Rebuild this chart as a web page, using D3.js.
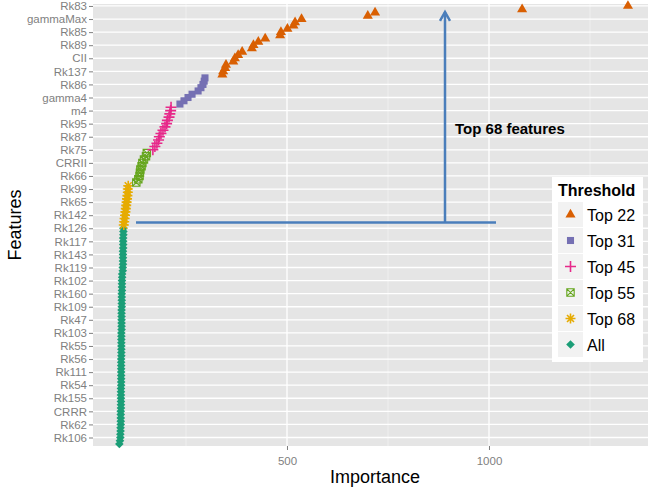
<!DOCTYPE html>
<meta charset="utf-8">

<head>
    <title>Feature importance</title>
</head>

<style>
    body {
        margin: 0;
        background-color: #ffffff;
        font-family: "Liberation Sans", Arial, sans-serif;
    }

    .axis path {
        display: none;
    }

    .axis line {
        stroke: #7f7f7f;
        stroke-width: 1px;
    }

    .axis text {
        fill: #7f7f7f;
        font-size: 11.5px;
        font-family: "Liberation Sans", Arial, sans-serif;
    }
</style>

<body>
    <svg width="649" height="491"></svg>
</body>

<script src="https://d3js.org/d3.v7.min.js"></script>

<script>
    // features ordered from the most important (top) to the least important (bottom)
    // only every 4th feature carries a label on the axis
    var tickLabels = ["Rk83", "gammaMax", "Rk85", "Rk89", "CII", "Rk137", "Rk86", "gamma4", "m4",
        "Rk95", "Rk87", "Rk75", "CRRII", "Rk66", "Rk99", "Rk65", "Rk142", "Rk126", "Rk117",
        "Rk143", "Rk119", "Rk102", "Rk160", "Rk109", "Rk47", "Rk103", "Rk55", "Rk56", "Rk111",
        "Rk54", "Rk155", "CRRR", "Rk62", "Rk106"];
    var labelEvery = 4;

    var importance = [
        // top 22
        1344, 1082, 718, 700, 536, 520, 516, 501, 485, 483, 446, 429, 417, 413, 389, 379, 371, 367,
        349, 347, 342, 340,
        // top 31
        297, 295, 292, 287, 280, 265, 255, 245, 235,
        // top 45
        213, 212, 210, 208, 204, 202, 198, 193, 188, 184, 182, 178, 173, 168,
        // top 55
        153, 151, 146, 142, 140, 137, 136, 135, 132, 127,
        // top 68
        107, 106, 106, 105, 104, 103, 102, 101, 100, 99, 98, 97, 96,
        // all the rest
        95, 95, 95, 94.5, 94.5, 94.5, 94.5, 94, 94, 94, 94, 94, 93.5, 93.5,
        92, 92, 91.5, 91.5, 91.5, 91.5, 91, 91, 91, 91, 91,
        90.5, 90.5, 90.5, 90.5, 90.5, 90.5, 90.5,
        90, 90, 90, 90, 90, 90, 90, 90,
        89.5, 89.5, 89.5, 89.5, 89.5, 89.5, 89.5, 89.5, 89.5,
        89, 89, 89, 89, 89, 89, 89,
        88.5, 88.5, 88.5, 88.5, 88.5, 88, 88, 87.5, 87.5, 86.5, 85
    ];

    var groups = ["Top 22", "Top 31", "Top 45", "Top 55", "Top 68", "All"];
    var groupEnds = [22, 31, 45, 55, 68, 135];
    var groupColors = ["#D95F02", "#7570B3", "#E7298A", "#66A61E", "#E6AB02", "#1B9E77"];
    var groupShapes = ["triangle", "square", "plus", "squareX", "star", "diamond"];

    var xTicks = [500, 1000];
    var xMinorTicks = [250, 750, 1250];
    var cutoff = 68;

    var svg = d3.select("svg"),
        panel = { left: 93, right: 648, top: 4, bottom: 446 };

    var data = importance.map(function (v, i) {
        var gi = groupEnds.findIndex(e => i < e);
        return { index: i, value: v, group: groups[gi] };
    });

    var x = d3.scaleLinear()
        .domain([19.8, 1393.6])
        .range([panel.left, panel.right]);

    var y = d3.scalePoint()
        .domain(d3.range(importance.length))
        .range([panel.top, panel.bottom])
        .padding(0.6);

    var colour = d3.scaleOrdinal().domain(groups).range(groupColors);
    var shape = d3.scaleOrdinal().domain(groups).range(groupShapes);

    function shapePath(s) {
        if (s == "triangle") return d3.symbol(d3.symbolTriangle, 44)();
        if (s == "square") return d3.symbol(d3.symbolSquare, 50)();
        if (s == "plus") return "M-5.5,0H5.5M0,-5.5V5.5";
        if (s == "squareX") return "M-3.7,-3.7H3.7V3.7H-3.7ZM-3.7,-3.7L3.7,3.7M3.7,-3.7L-3.7,3.7";
        if (s == "star") return "M-5,0H5M0,-5V5M-3.5,-3.5L3.5,3.5M3.5,-3.5L-3.5,3.5";
        return "M0,-4.3L4.3,0L0,4.3L-4.3,0Z";
    }

    function styleShape(sel, g) {
        var s = shape(g), c = colour(g);
        var filled = (s == "triangle" || s == "square" || s == "diamond");
        sel.attr("d", shapePath(s))
            .attr("fill", filled ? c : "none")
            .attr("stroke", filled ? "none" : c)
            .attr("stroke-width", s == "squareX" ? 1.1 : 1.6);
    }

    // panel background
    svg.append("rect")
        .attr("x", panel.left)
        .attr("y", panel.top)
        .attr("width", panel.right - panel.left)
        .attr("height", panel.bottom - panel.top)
        .attr("fill", "#E5E5E5");

    var labelIdx = tickLabels.map((d, i) => i * labelEvery);

    // grid
    svg.append("g").selectAll("line")
        .data(xMinorTicks)
        .enter().append("line")
        .attr("x1", d => x(d)).attr("x2", d => x(d))
        .attr("y1", panel.top).attr("y2", panel.bottom)
        .attr("stroke", "#F2F2F2").attr("stroke-width", 0.8);

    svg.append("g").selectAll("line")
        .data(xTicks)
        .enter().append("line")
        .attr("x1", d => x(d)).attr("x2", d => x(d))
        .attr("y1", panel.top).attr("y2", panel.bottom)
        .attr("stroke", "#ffffff").attr("stroke-width", 1.3);

    svg.append("g").selectAll("line")
        .data(labelIdx)
        .enter().append("line")
        .attr("x1", panel.left).attr("x2", panel.right)
        .attr("y1", d => y(d)).attr("y2", d => y(d))
        .attr("stroke", "#ffffff").attr("stroke-width", 1.3);

    // axes
    svg.append("g")
        .attr("class", "axis")
        .attr("transform", "translate(" + panel.left + ",0)")
        .call(d3.axisLeft(y)
            .tickValues(labelIdx)
            .tickSize(4)
            .tickPadding(2)
            .tickFormat((d, i) => tickLabels[i]));

    svg.append("g")
        .attr("class", "axis")
        .attr("transform", "translate(0," + panel.bottom + ")")
        .call(d3.axisBottom(x)
            .tickValues(xTicks)
            .tickSize(4)
            .tickPadding(7)
            .tickFormat(d3.format("d")));

    svg.append("text")
        .attr("x", 375)
        .attr("y", 483)
        .attr("text-anchor", "middle")
        .attr("font-size", "18px")
        .text("Importance");

    svg.append("text")
        .attr("transform", "translate(21," + (panel.top + panel.bottom) / 2 + ") rotate(-90)")
        .attr("text-anchor", "middle")
        .attr("font-size", "18px")
        .text("Features");

    // points, least important drawn first
    svg.append("g").selectAll("path")
        .data(data.slice().reverse())
        .enter().append("path")
        .attr("transform", d => "translate(" + x(d.value) + "," + y(d.index) + ")")
        .each(function (d) { styleShape(d3.select(this), d.group); });

    // annotation: cutoff line and arrow
    var blue = "#4A7EBB";
    var cutY = y(cutoff - 1) - 2.5;
    var arrowX = 445;
    var tipY = y(0) + 6;
    var ann = svg.append("g")
        .attr("stroke", blue)
        .attr("stroke-width", 2.5)
        .attr("fill", "none");

    ann.append("line")
        .attr("x1", 136).attr("x2", 496)
        .attr("y1", cutY).attr("y2", cutY);

    ann.append("line")
        .attr("x1", arrowX).attr("x2", arrowX)
        .attr("y1", cutY).attr("y2", tipY);

    ann.append("path")
        .attr("stroke-linejoin", "miter")
        .attr("d", "M" + (arrowX - 5) + "," + (tipY + 9) + "L" + arrowX + "," + tipY + "L" + (arrowX + 5) + "," + (tipY + 9));

    svg.append("text")
        .attr("x", 455)
        .attr("y", 134)
        .attr("font-size", "15px")
        .attr("font-weight", "bold")
        .text("Top " + cutoff + " features");

    // legend
    var legend = svg.append("g").attr("transform", "translate(552,177)");

    legend.append("rect")
        .attr("width", 91)
        .attr("height", 185)
        .attr("fill", "#ffffff");

    legend.append("text")
        .attr("x", 6)
        .attr("y", 19)
        .attr("font-size", "16px")
        .attr("font-weight", "bold")
        .text("Threshold");

    var keys = legend.selectAll("g.key")
        .data(groups)
        .enter().append("g")
        .attr("class", "key")
        .attr("transform", (d, i) => "translate(6," + (25 + i * 26) + ")");

    keys.append("rect")
        .attr("width", 25)
        .attr("height", 25)
        .attr("fill", "#F2F2F2");

    keys.append("path")
        .attr("transform", "translate(12.5,12.5)")
        .each(function (d) { styleShape(d3.select(this), d); });

    keys.append("text")
        .attr("x", 29)
        .attr("y", 18.5)
        .attr("font-size", "16px")
        .text(d => d);
</script>
